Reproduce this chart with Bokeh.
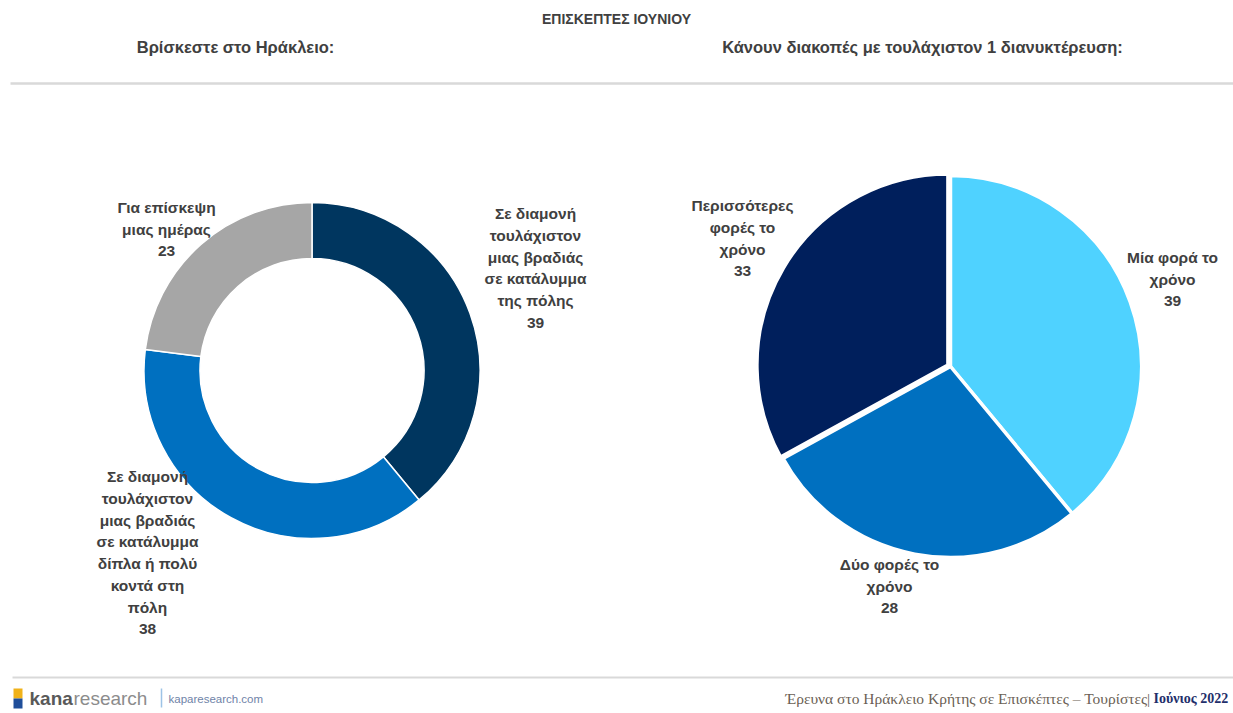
import math
from bokeh.plotting import figure
from bokeh.models import Range1d, ColumnDataSource
from bokeh.core.properties import value
from bokeh.embed import file_html
from bokeh.resources import INLINE

# ---------------- data ----------------
title = "ΕΠΙΣΚΕΠΤΕΣ ΙΟΥΝΙΟΥ"
left_subtitle = "Βρίσκεστε στο Ηράκλειο:"
right_subtitle = "Κάνουν διακοπές με τουλάχιστον 1 διανυκτέρευση:"

left_categories = [
    "Σε διαμονή\nτουλάχιστον\nμιας βραδιάς\nσε κατάλυμμα\nτης πόλης",
    "Σε διαμονή\nτουλάχιστον\nμιας βραδιάς\nσε κατάλυμμα\nδίπλα ή πολύ\nκοντά στη\nπόλη",
    "Για επίσκεψη\nμιας ημέρας",
]
left_values = [39, 38, 23]
left_colors = ["#00365F", "#0070C0", "#A6A6A6"]

right_categories = [
    "Μία φορά το\nχρόνο",
    "Δύο φορές το\nχρόνο",
    "Περισσότερες\nφορές το\nχρόνο",
]
right_values = [39, 28, 33]
right_colors = ["#4FD2FF", "#0070C0", "#001F5C"]

footer_brand_bold = "kana"
footer_brand_light = "research"
footer_site = "kaparesearch.com"
footer_note = "Έρευνα στο Ηράκλειο Κρήτης σε Επισκέπτες – Τουρίστες|"
footer_date = "Ιούνιος 2022"

# ---------------- layout ----------------
W, H = 1233, 713
LABEL_FONT = "Liberation Sans"
TEXT_COLOR = "#404040"
LINE_H = 21.8


def Y(py):
    # page pixel row -> data y
    return H - py


LEFT_C = (311.5, 370)
LEFT_R_OUT, LEFT_R_IN = 168, 112
RIGHT_C = (950, 366)
RIGHT_R = 191
right_explode = [0, 0, 3]

left_label_pos = [(535, 213), (147, 476), (166, 207)]
right_label_pos = [(1172, 257), (889, 564), (742, 205)]


def slice_angles(values):
    total = float(sum(values))
    cum = 0.0
    starts, ends = [], []
    for v in values:
        starts.append(math.pi / 2 - 2 * math.pi * cum / total)
        cum += v
        ends.append(math.pi / 2 - 2 * math.pi * cum / total)
    return starts, ends


p = figure(width=W, height=H, x_range=Range1d(0, W), y_range=Range1d(0, H),
           output_backend="svg", toolbar_location=None, min_border=0,
           x_axis_type=None, y_axis_type=None)
p.grid.visible = False
p.outline_line_color = None
p.background_fill_color = "white"
p.border_fill_color = "white"

# donut
ls, le = slice_angles(left_values)
p.annular_wedge(x=LEFT_C[0], y=Y(LEFT_C[1]), inner_radius=LEFT_R_IN, outer_radius=LEFT_R_OUT,
                start_angle=ls, end_angle=le, direction="clock",
                fill_color=left_colors, line_color="white", line_width=1.5)

# pie
rs, re_ = slice_angles(right_values)
px, py = [], []
for s, e, d in zip(rs, re_, right_explode):
    mid = (s + e) / 2
    px.append(RIGHT_C[0] + d * math.cos(mid))
    py.append(Y(RIGHT_C[1]) + d * math.sin(mid))
p.wedge(x=px, y=py, radius=RIGHT_R, start_angle=rs, end_angle=re_, direction="clock",
        fill_color=right_colors, line_color="white", line_width=3.5)

# slice labels
lx, ly, lt = [], [], []
for cats, vals, pos in ((left_categories, left_values, left_label_pos),
                        (right_categories, right_values, right_label_pos)):
    for c, v, (x0, y0) in zip(cats, vals, pos):
        for j, line in enumerate(c.split("\n") + [str(v)]):
            lx.append(x0)
            ly.append(Y(y0 + j * LINE_H))
            lt.append(line)
p.text(x="x", y="y", text="t", source=ColumnDataSource(dict(x=lx, y=ly, t=lt)),
       text_align="center", text_baseline="middle", text_font=value(LABEL_FONT),
       text_font_size="15.5px", text_font_style="bold", text_color=TEXT_COLOR)

# titles
p.text(x=[616], y=[Y(18)], text=[title], text_align="center", text_baseline="middle",
       text_font=value(LABEL_FONT), text_font_size="14px", text_font_style="bold",
       text_color=TEXT_COLOR)
p.text(x=[235, 922], y=[Y(46), Y(46)], text=[left_subtitle, right_subtitle],
       text_align="center", text_baseline="middle", text_font=value(LABEL_FONT),
       text_font_size="16.5px", text_font_style="bold", text_color=TEXT_COLOR)

# separator lines
p.line(x=[10, W], y=[Y(83), Y(83)], line_color="#D9D9D9", line_width=2.5)
p.line(x=[12, W], y=[Y(677), Y(677)], line_color="#D9D9D9", line_width=2)

# footer logo
p.quad(left=[13], right=[22], top=[Y(688)], bottom=[Y(698)], fill_color="#F0B21A", line_color=None)
p.quad(left=[13], right=[22], top=[Y(698)], bottom=[Y(708)], fill_color="#1F4E9A", line_color=None)
p.text(x=[29], y=[Y(698)], text=[footer_brand_bold], text_align="left", text_baseline="middle",
       text_font=value("Liberation Sans"), text_font_size="19px", text_font_style="bold",
       text_color="#595959")
p.text(x=[73], y=[Y(698)], text=[footer_brand_light], text_align="left", text_baseline="middle",
       text_font=value("Liberation Sans"), text_font_size="19px", text_color="#8C8C8C")
p.line(x=[161, 161], y=[Y(688), Y(707)], line_color="#9DC3E6", line_width=1.5)
p.text(x=[168], y=[Y(698)], text=[footer_site], text_align="left", text_baseline="middle",
       text_font=value("Liberation Sans"), text_font_size="11.5px", text_color="#6F83A8")

# footer right
p.text(x=[1150], y=[Y(698)], text=[footer_note], text_align="right", text_baseline="middle",
       text_font=value("Liberation Serif"), text_font_size="15.5px", text_color="#6B5F55")
p.text(x=[1153], y=[Y(698)], text=[footer_date], text_align="left", text_baseline="middle",
       text_font=value("Liberation Serif"), text_font_size="14px", text_font_style="bold",
       text_color="#1F2F6B")

open("out.html", "w").write(file_html(p, INLINE))
